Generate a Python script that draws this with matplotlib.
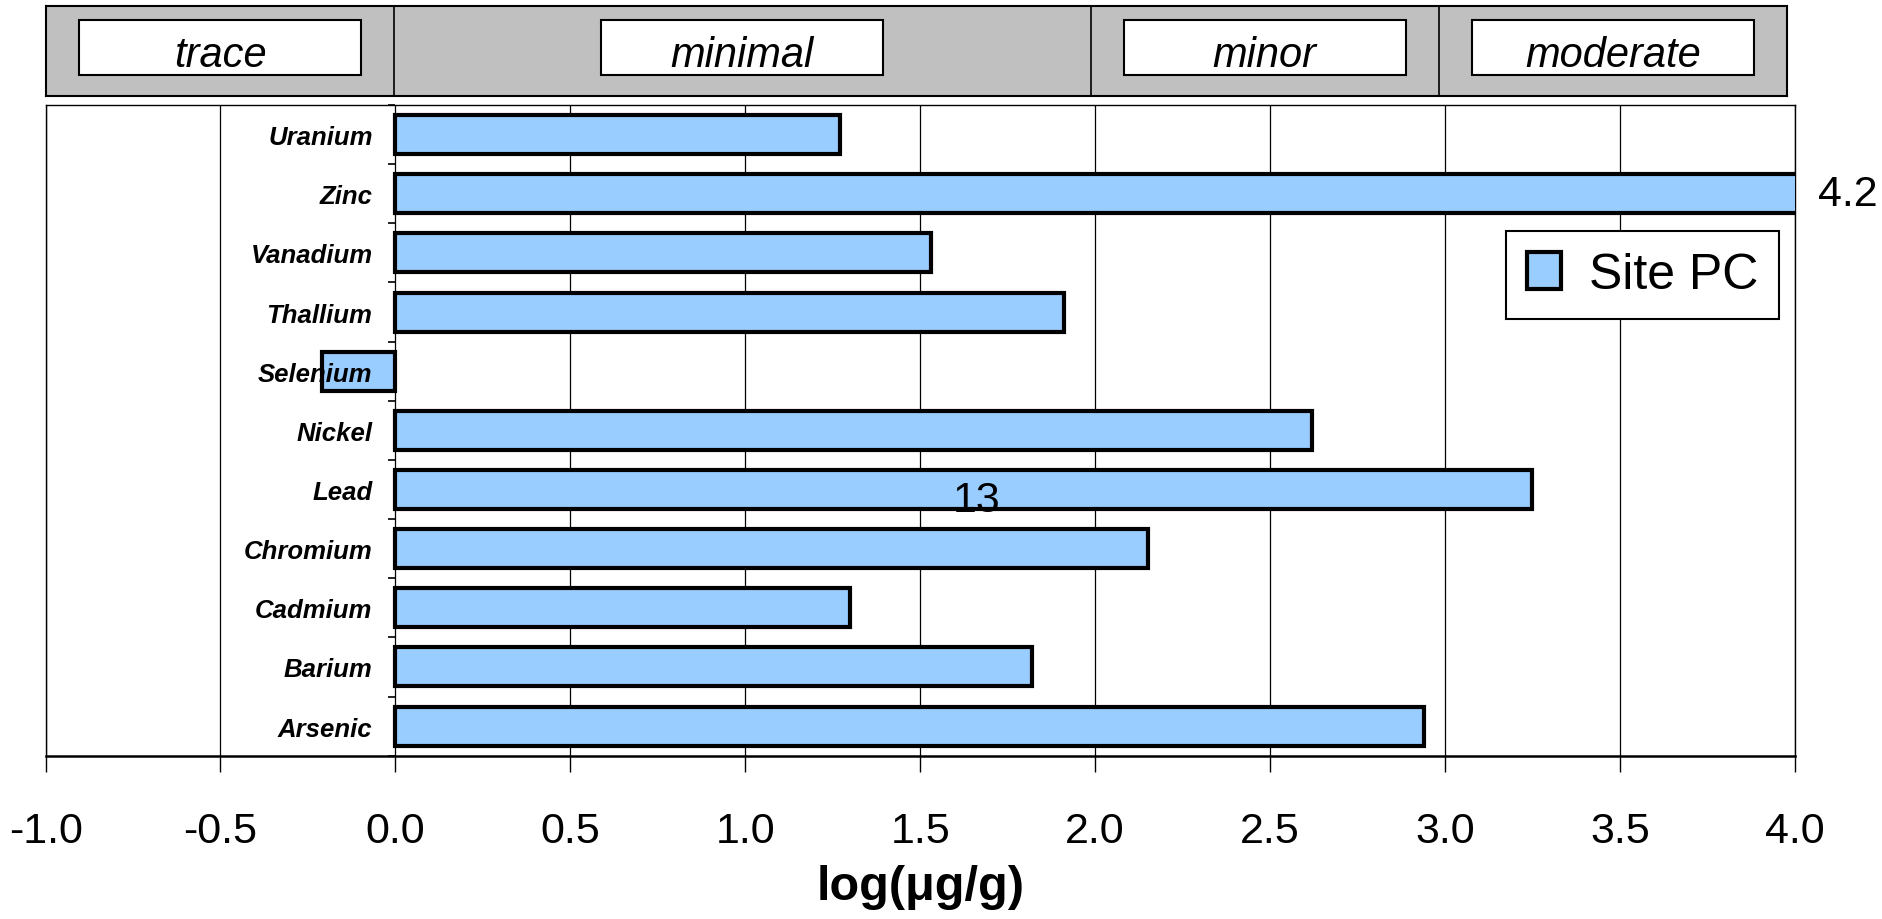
import matplotlib
matplotlib.use("Agg")
import matplotlib.pyplot as plt
from matplotlib.patches import Rectangle
import numpy as np

# log10 concentrations for site PC, bottom to top
elements = ["Arsenic", "Barium", "Cadmium", "Chromium", "Lead", "Nickel",
            "Selenium", "Thallium", "Vanadium", "Zinc", "Uranium"]
log_conc = [2.94, 1.82, 1.30, 2.15, 3.25, 2.62, -0.21, 1.91, 1.53, 4.20, 1.27]
series_name = "Site PC"

# concentration classes along the top
class_edges = [-1.0, 0.0, 2.0, 3.0, 4.0]
class_names = ["trace", "minimal", "minor", "moderate"]

# loose annotation sitting on the Lead bar
note_text = "13"
note_xy = (1.66, 3.82)

xticks = np.arange(-1.0, 4.01, 0.5)
XMIN, XMAX = -1.0, 4.0

plt.rcParams.update({
    "font.family": ["Liberation Sans", "DejaVu Sans"],
    "axes.unicode_minus": False,
})

fig = plt.figure(figsize=(18.83, 9.2), dpi=100)

# ---- main bar panel ----
ax = fig.add_axes([0.0242, 0.1775, 0.929, 0.7073])
y = np.arange(len(elements))
bars = ax.barh(y, log_conc, height=0.66, color="#99CCFF", edgecolor="black",
               linewidth=3, zorder=3, label=series_name)
ax.set_xlim(XMIN, XMAX)
ax.set_ylim(-0.5, len(elements) - 0.5)
ax.set_xticks(xticks)
ax.set_xticklabels([f"{t:.1f}" for t in xticks], fontsize=31)
ax.tick_params(axis="x", direction="out", length=11.5, width=1.0, pad=28)
ax.set_yticks([])
ax.grid(axis="x", color="black", linewidth=0.9, zorder=0)
for side in ("left", "right", "top"):
    ax.spines[side].set_linewidth(1.0)
ax.spines["bottom"].set_linewidth(1.8)
ax.set_xlabel("log(\u03bcg/g)", fontsize=35, fontweight="bold", labelpad=10)

# category axis crosses at zero, labels drawn over the bars
sec = ax.secondary_yaxis((0 - XMIN) / (XMAX - XMIN))
sec.set_zorder(10)
sec.spines["left"].set_visible(False)
sec.set_yticks(y)
sec.set_yticklabels(elements, fontsize=18.5, fontweight="bold",
                    fontstyle="italic")
sec.set_yticks(np.arange(-0.5, len(elements)), minor=True)
sec.tick_params(axis="y", which="major", length=0, pad=16.5)
sec.tick_params(axis="y", which="minor", length=5, width=1.2, direction="out")

# value label for the bar running past the axis limit
for val, yy in zip(log_conc, y):
    if val > XMAX:
        ax.annotate(f"{val:.1f}", xy=(XMAX, yy), xytext=(17, 0),
                    textcoords="offset points", ha="left", va="center",
                    fontsize=31, annotation_clip=False)

ax.text(note_xy[0], note_xy[1], note_text, fontsize=31, ha="center",
        va="center", zorder=5)

leg = ax.legend(handles=[bars], loc="upper right",
                bbox_to_anchor=(0.9449, 0.7482), bbox_transform=fig.transFigure,
                borderaxespad=0, fontsize=36, frameon=True, fancybox=False,
                edgecolor="black", framealpha=1, borderpad=0.42,
                handlelength=0.68, handleheight=0.76, handletextpad=0.55)
leg.get_frame().set_linewidth(1.5)
leg.set_zorder(12)

# ---- concentration class band ----
band = fig.add_axes([0.0244, 0.8949, 0.9246, 0.0972])
band.set_facecolor("#C0C0C0")
band.set_xlim(XMIN, XMAX)
band.set_ylim(0, 1)
band.set_xticks([])
band.set_yticks([])
for sp in band.spines.values():
    sp.set_linewidth(1.5)
for edge in class_edges[1:-1]:
    band.axvline(edge, color="black", linewidth=1.2)
box_w = 0.81
for lo, hi, name in zip(class_edges[:-1], class_edges[1:], class_names):
    mid = 0.5 * (lo + hi)
    band.add_patch(Rectangle((mid - box_w / 2, 0.232), box_w, 0.618,
                             facecolor="white", edgecolor="black",
                             linewidth=1.5))
    band.text(mid, 0.336, name, ha="center", va="baseline", fontsize=30,
              fontstyle="italic")

fig.savefig("out.png", dpi=100)
